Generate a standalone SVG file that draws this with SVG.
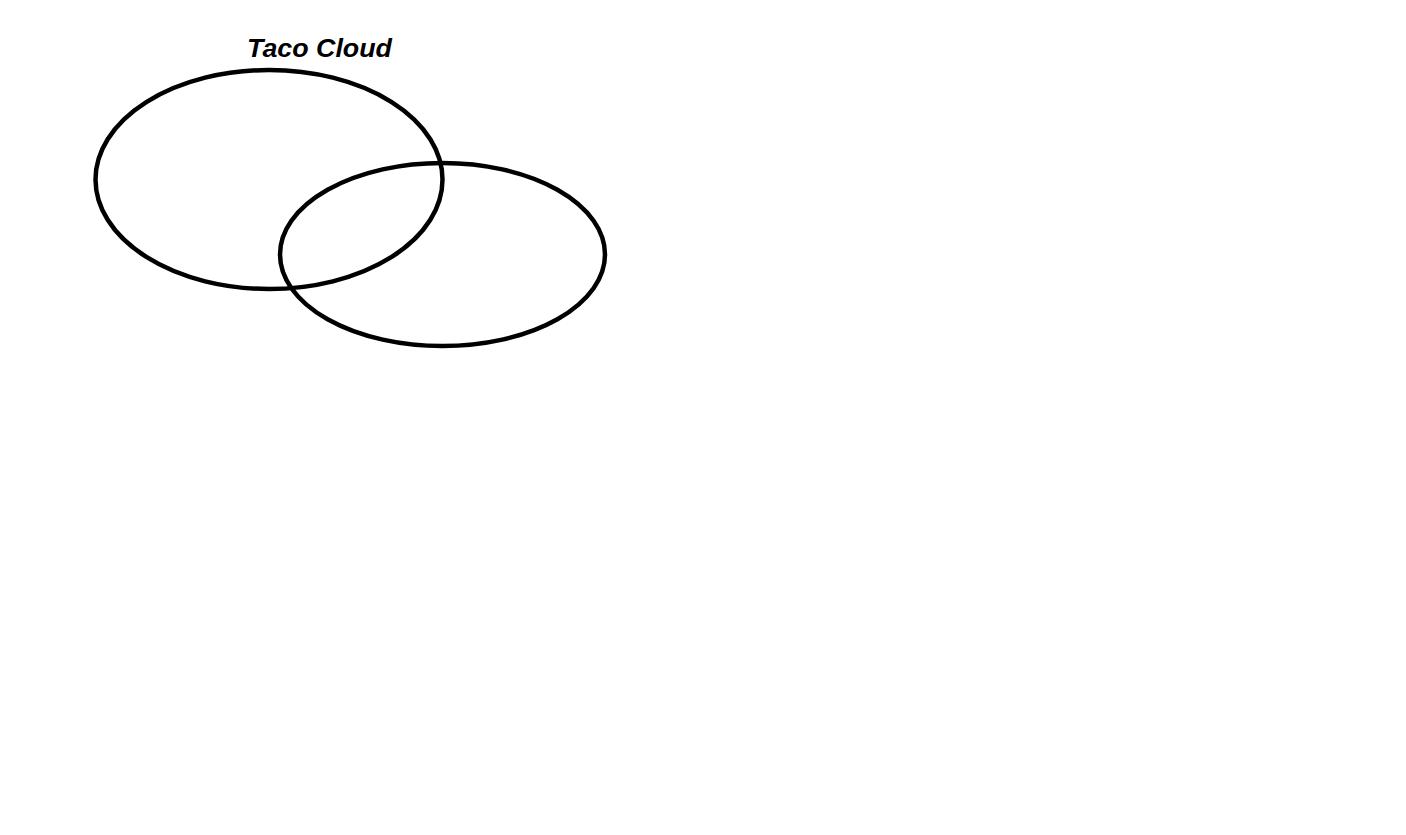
<svg xmlns="http://www.w3.org/2000/svg" width="1406" height="835" viewBox="0 0 1406 835">
<style>
.ring{fill:none;stroke:#000;stroke-width:4.5}
.title{font-family:"Liberation Sans",Arial,sans-serif;font-weight:bold;font-style:italic;font-size:25px;fill:#000}
</style>
<rect width="1406" height="835" fill="#fff"/>
<g id="title"><text class="title" x="247" y="57" textLength="145" lengthAdjust="spacingAndGlyphs">Taco Cloud</text></g>
<g id="ellipse-left"><ellipse class="ring" cx="269" cy="179.5" rx="173.5" ry="109.5"/></g>
<g id="ellipse-right"><ellipse class="ring" cx="442.5" cy="254.5" rx="162.5" ry="91.5"/></g>
<g id="connectors"></g>
</svg>
